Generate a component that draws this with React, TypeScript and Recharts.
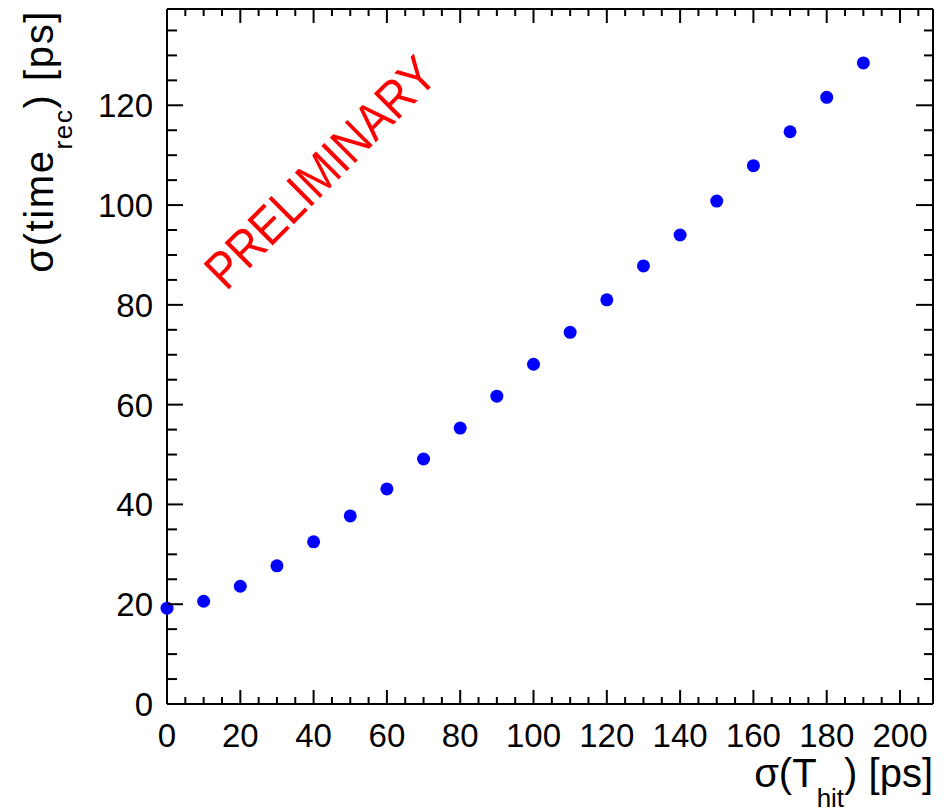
import { Scatter, ScatterChart, XAxis, YAxis } from "recharts";

const sigmaHit = [0, 10, 20, 30, 40, 50, 60, 70, 80, 90, 100, 110, 120, 130, 140, 150, 160, 170, 180, 190];
const sigmaRec = [
  19.2, 20.6, 23.6, 27.7, 32.5, 37.7, 43.1, 49.1, 55.3, 61.7, 68.1, 74.5, 81.0, 87.8, 94.0, 100.8, 107.9,
  114.7, 121.6, 128.5,
];

const X_DOMAIN: [number, number] = [0, 209];
const Y_DOMAIN: [number, number] = [0, 139.3];
const xTicks = Array.from({ length: 42 }, (_, i) => i * 5);
const yTicks = Array.from({ length: 28 }, (_, i) => i * 5);
const xLabelStep = 20;
const yLabelStep = 20;

const data = sigmaHit.map((x, i) => ({ x, y: sigmaRec[i] }));

const FONT = "'Liberation Sans', Arial, Helvetica, sans-serif";
const BLACK = "#000000";

function BottomTick({ x, y, payload }: any) {
  const v = payload.value;
  const major = v % xLabelStep === 0;
  return (
    <g>
      <line x1={x} x2={x} y1={y} y2={y - (major ? 14 : 7)} stroke={BLACK} strokeWidth={2} />
      {major && (
        <text x={x} y={y + 43} textAnchor="middle" fontSize={33} fontFamily={FONT} fill={BLACK}>
          {v}
        </text>
      )}
    </g>
  );
}

function TopTick({ x, y, payload }: any) {
  const major = payload.value % xLabelStep === 0;
  return <line x1={x} x2={x} y1={y} y2={y + (major ? 14 : 7)} stroke={BLACK} strokeWidth={2} />;
}

function LeftTick({ x, y, payload }: any) {
  const v = payload.value;
  const major = v % yLabelStep === 0;
  return (
    <g>
      <line x1={x} x2={x + (major ? 16 : 10)} y1={y} y2={y} stroke={BLACK} strokeWidth={2} />
      {major && (
        <text x={x - 14} y={y + 12} textAnchor="end" fontSize={33} fontFamily={FONT} fill={BLACK}>
          {v}
        </text>
      )}
    </g>
  );
}

function RightTick({ x, y, payload }: any) {
  const major = payload.value % yLabelStep === 0;
  return <line x1={x} x2={x - (major ? 17 : 9)} y1={y} y2={y} stroke={BLACK} strokeWidth={2} />;
}

function Dot({ cx, cy }: any) {
  return <circle cx={cx} cy={cy} r={6.5} fill="#0000ff" />;
}

function NoDot() {
  return <g />;
}

export default function App() {
  return (
    <div style={{ position: "absolute", left: 0, top: 0, background: "#fff" }}>
      <ScatterChart width={948} height={812} margin={{ top: 8, right: 14, bottom: 0, left: 0 }}>
        <XAxis
          xAxisId="b"
          type="number"
          dataKey="x"
          domain={X_DOMAIN}
          ticks={xTicks}
          interval={0}
          height={108}
          tickSize={0}
          tickMargin={0}
          tickLine={false}
          axisLine={{ stroke: BLACK, strokeWidth: 2 }}
          tick={<BottomTick />}
        />
        <XAxis
          xAxisId="t"
          orientation="top"
          type="number"
          dataKey="x"
          domain={X_DOMAIN}
          ticks={xTicks}
          interval={0}
          height={1}
          tickSize={0}
          tickMargin={0}
          tickLine={false}
          axisLine={{ stroke: BLACK, strokeWidth: 2 }}
          tick={<TopTick />}
        />
        <YAxis
          yAxisId="l"
          type="number"
          dataKey="y"
          domain={Y_DOMAIN}
          ticks={yTicks}
          interval={0}
          width={167}
          tickSize={0}
          tickMargin={0}
          tickLine={false}
          axisLine={{ stroke: BLACK, strokeWidth: 2 }}
          tick={<LeftTick />}
        />
        <YAxis
          yAxisId="r"
          orientation="right"
          type="number"
          dataKey="y"
          domain={Y_DOMAIN}
          ticks={yTicks}
          interval={0}
          width={1}
          tickSize={0}
          tickMargin={0}
          tickLine={false}
          axisLine={{ stroke: BLACK, strokeWidth: 2 }}
          tick={<RightTick />}
        />
        <Scatter xAxisId="t" yAxisId="r" data={data} shape={<NoDot />} isAnimationActive={false} />
        <Scatter xAxisId="b" yAxisId="l" data={data} shape={<Dot />} isAnimationActive={false} />
        <text x={933} y={787} textAnchor="end" fontFamily={FONT} fontSize={40} fill={BLACK}>
          σ(T
          <tspan fontSize={26} dy={20}>hit</tspan>
          <tspan dy={-20}>) [ps]</tspan>
        </text>
        <text
          transform="translate(53, 10) rotate(-90)"
          textAnchor="end"
          fontFamily={FONT}
          fontSize={40}
          letterSpacing={1.6}
          fill={BLACK}
        >
          σ(time
          <tspan fontSize={26} dy={19}>rec</tspan>
          <tspan dy={-19}>) [ps]</tspan>
        </text>
        <text
          transform="translate(333, 185) rotate(-45) scale(0.86, 1)"
          textAnchor="middle"
          fontFamily={FONT}
          fontSize={52}
          fill="#ff0000"
        >
          PRELIMINARY
        </text>
      </ScatterChart>
    </div>
  );
}
